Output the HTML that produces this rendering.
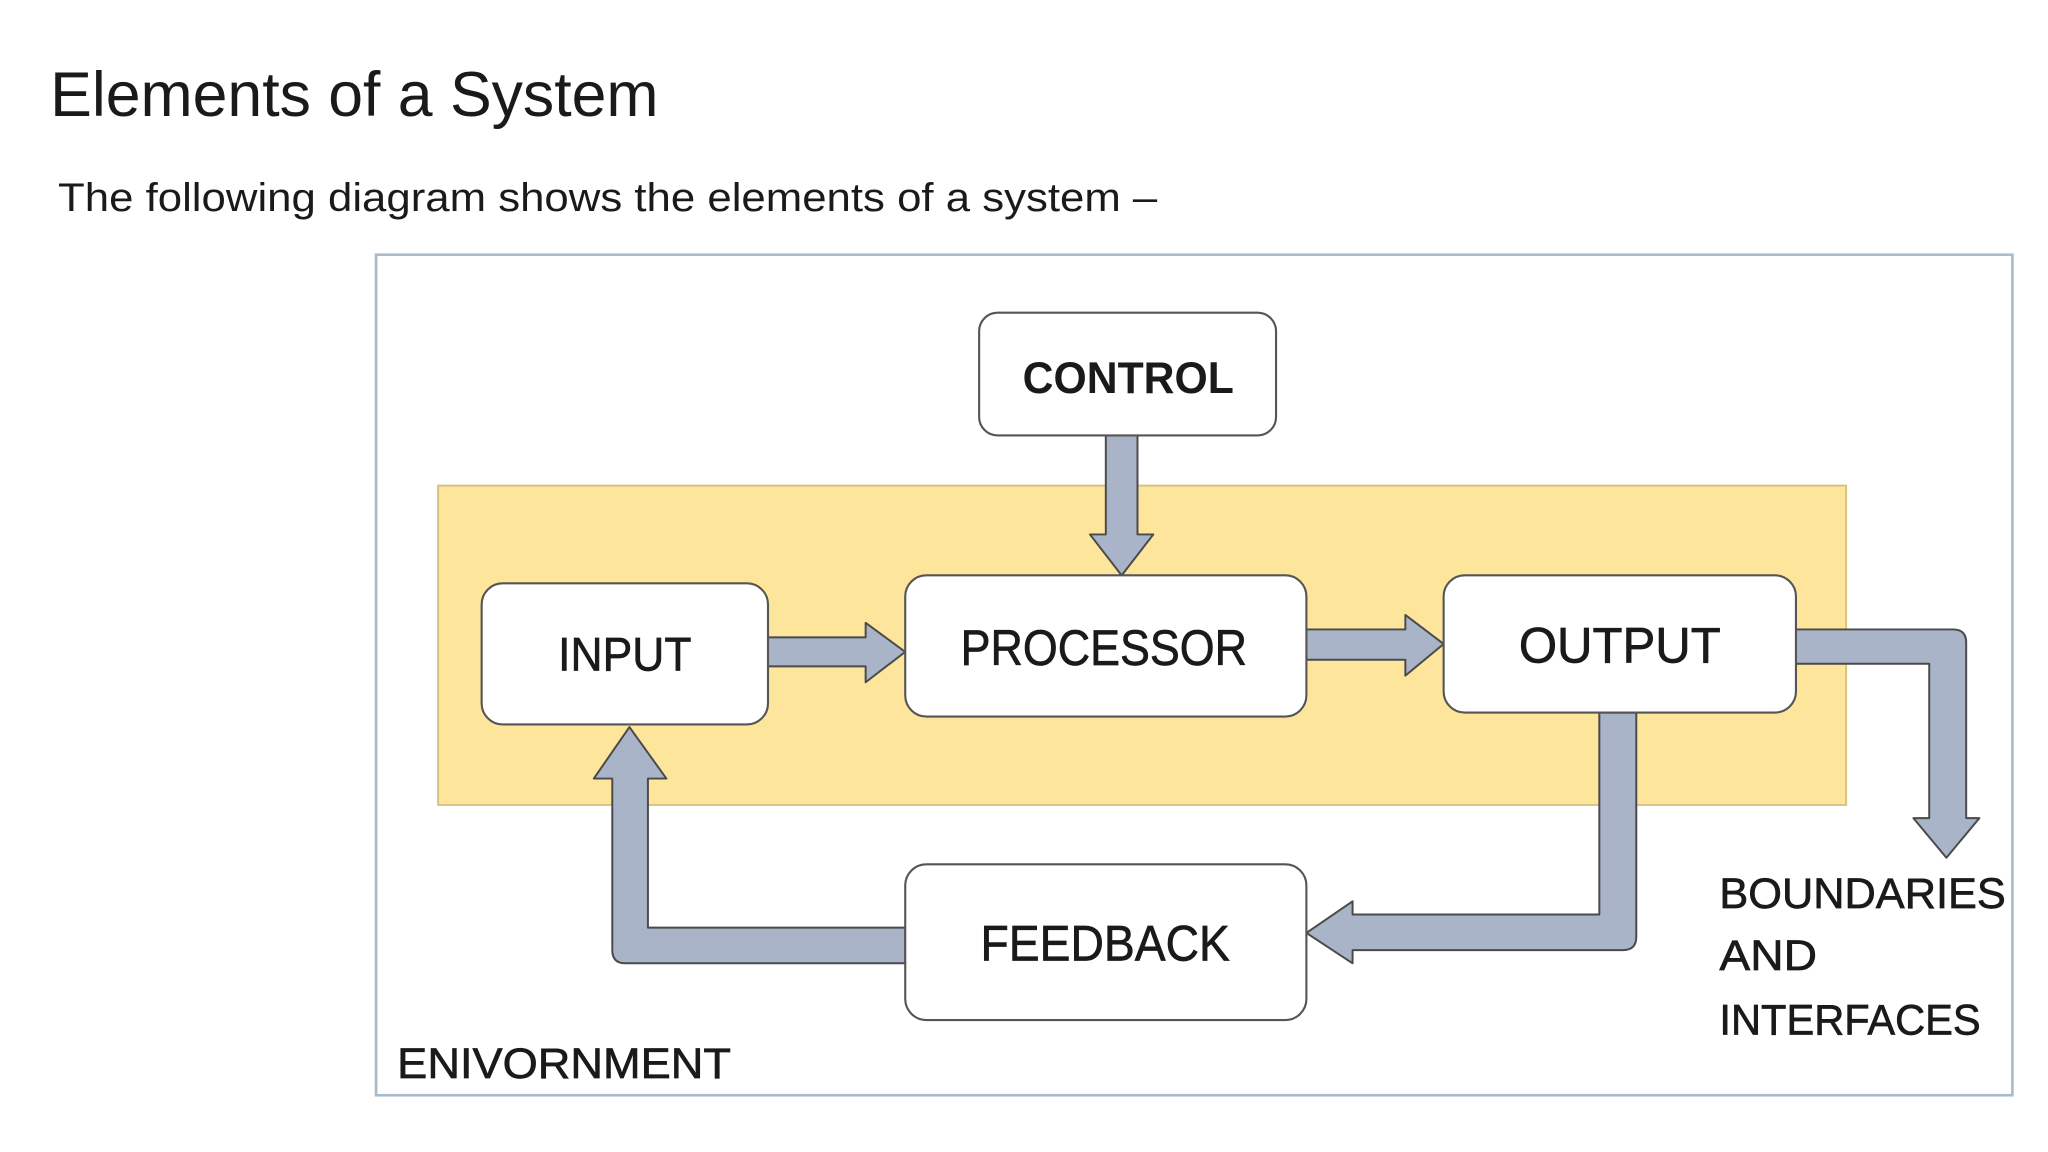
<!DOCTYPE html>
<html><head><meta charset="utf-8"><style>
html,body{margin:0;padding:0;background:#fff;width:2048px;height:1152px;overflow:hidden}
svg{display:block}
text{font-family:"Liberation Sans",Arial,sans-serif;fill:#1a1a1a}
.d{stroke:#1a1a1a;stroke-width:0.5}
</style></head><body>
<svg width="2048" height="1152" viewBox="0 0 1552 873" preserveAspectRatio="none">
<rect x="0" y="0" width="1552" height="873" fill="#fff"/>
<text x="38" y="88" font-size="48" textLength="461" lengthAdjust="spacingAndGlyphs">Elements of a System</text>
<text x="44" y="160" font-size="30" textLength="833" lengthAdjust="spacingAndGlyphs">The following diagram shows the elements of a system –</text>

<rect x="285" y="193" width="1240" height="637" fill="#fff" stroke="#a9bccd" stroke-width="2"/>
<rect x="332" y="368" width="1067" height="242" fill="#fde59c" stroke="#d9c27e" stroke-width="1.5"/>

<g fill="#a9b4c9" stroke="#4a4a4a" stroke-width="1.5" stroke-linejoin="round">
<path d="M838 330 L862 330 L862 405 L874 405 L850 436 L826 405 L838 405 Z"/>
<path d="M582 483 L656 483 L656 472 L686 494 L656 517 L656 505 L582 505 Z"/>
<path d="M990 477 L1065 477 L1065 466 L1094 488 L1065 512 L1065 500 L990 500 Z"/>
<path d="M1361 477 L1480 477 Q1490 477 1490 487 L1490 620 L1500 620 L1475 650 L1450 620 L1462 620 L1462 503 L1361 503 Z"/>
<path d="M1212 540 L1240 540 L1240 710 Q1240 720 1230 720 L1025 720 L1025 730 L990 707 L1025 683 L1025 693 L1212 693 Z"/>
<path d="M686 703 L491 703 L491 590 L505 590 L477 551 L450 590 L464 590 L464 720 Q464 730 474 730 L686 730 Z"/>
</g>

<g fill="#fff" stroke="#555" stroke-width="1.6">
<rect x="742" y="237" width="225" height="93" rx="14"/>
<rect x="365" y="442" width="217" height="107" rx="16"/>
<rect x="686" y="436" width="304" height="107" rx="16"/>
<rect x="1094" y="436" width="267" height="104" rx="16"/>
<rect x="686" y="655" width="304" height="118" rx="16"/>
</g>

<text x="775" y="298" font-size="34" font-weight="bold" textLength="160" lengthAdjust="spacingAndGlyphs">CONTROL</text>
<text class="d" x="423" y="508" font-size="36" textLength="101" lengthAdjust="spacingAndGlyphs">INPUT</text>
<text class="d" x="728" y="504" font-size="38" textLength="217" lengthAdjust="spacingAndGlyphs">PROCESSOR</text>
<text class="d" x="1151" y="502" font-size="38" textLength="153" lengthAdjust="spacingAndGlyphs">OUTPUT</text>
<text class="d" x="743" y="728" font-size="38" textLength="189" lengthAdjust="spacingAndGlyphs">FEEDBACK</text>
<text class="d" x="1303" y="688" font-size="32" textLength="217" lengthAdjust="spacingAndGlyphs">BOUNDARIES</text>
<text class="d" x="1303" y="735" font-size="32" textLength="74" lengthAdjust="spacingAndGlyphs">AND</text>
<text class="d" x="1303" y="784" font-size="32" textLength="198" lengthAdjust="spacingAndGlyphs">INTERFACES</text>
<text class="d" x="301" y="817" font-size="32" textLength="253" lengthAdjust="spacingAndGlyphs">ENIVORNMENT</text>
</svg>
</body></html>
